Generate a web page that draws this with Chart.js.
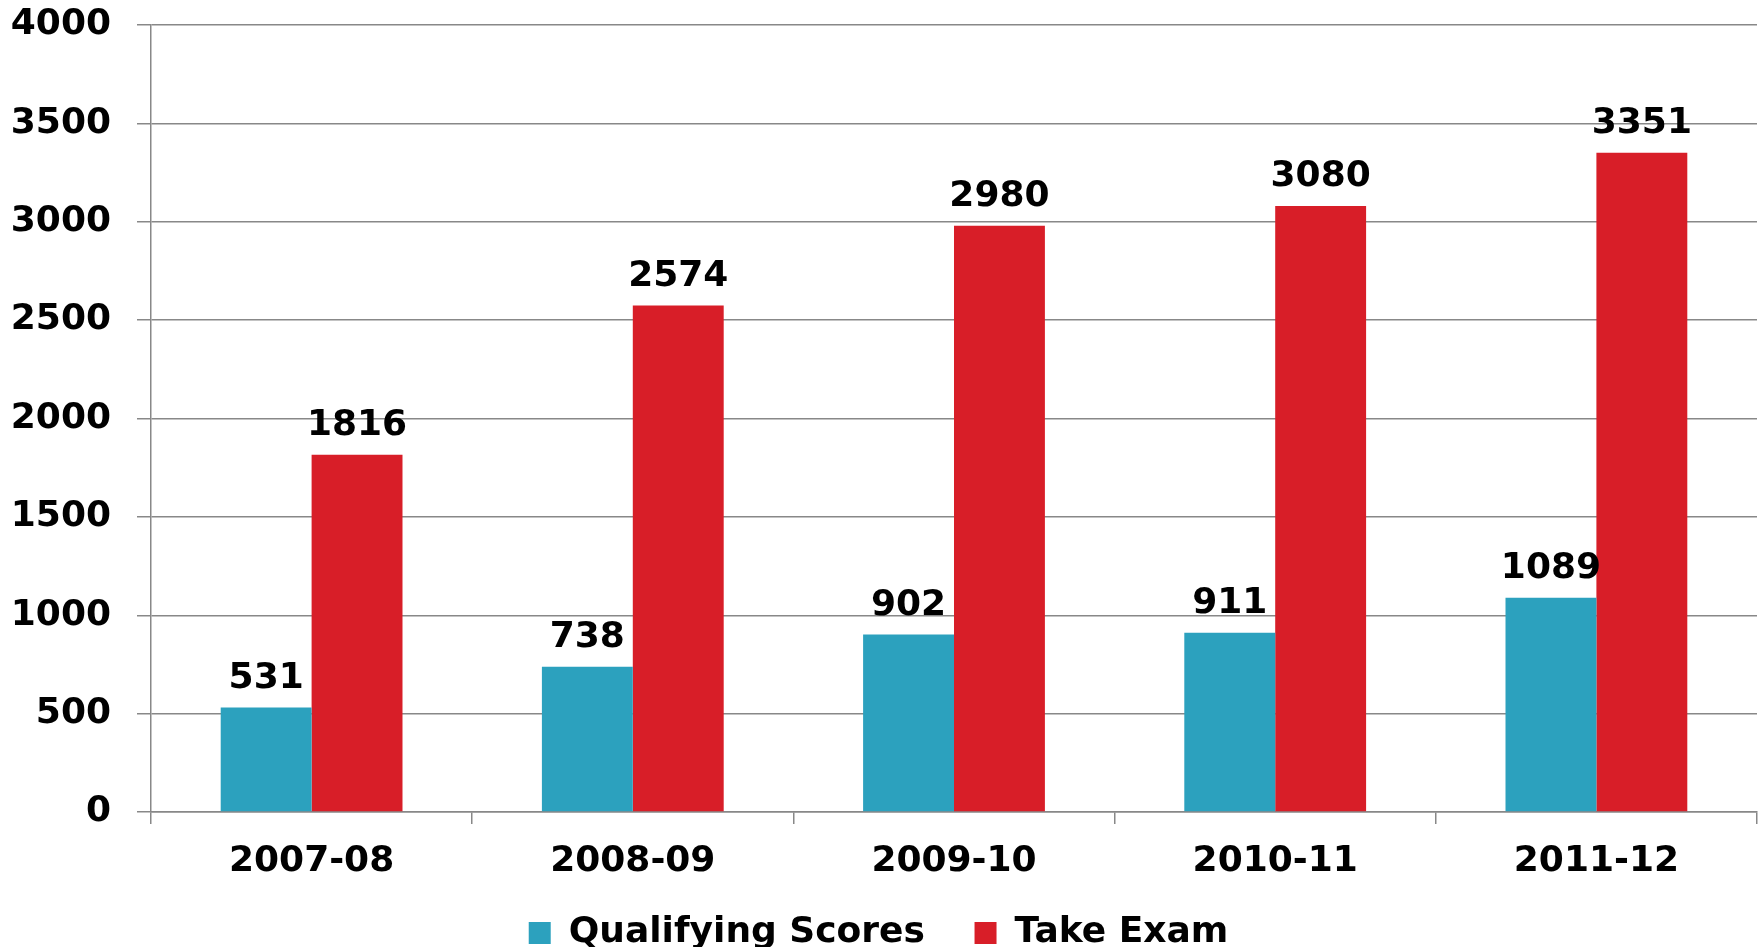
<!DOCTYPE html>
<html>
<head>
<meta charset="utf-8">
<script src="https://cdn.jsdelivr.net/npm/chart.js@4/dist/chart.umd.min.js"></script>
<style>
html,body{margin:0;padding:0;background:#fff;}
#wrap{width:1760px;height:947px;position:relative;}
</style>
</head>
<body>
<div id="wrap"><canvas id="c"></canvas></div>
<script>
const categories = ['2007-08', '2008-09', '2009-10', '2010-11', '2011-12'];
const qualifyingScores = [531, 738, 902, 911, 1089];
const takeExam = [1816, 2574, 2980, 3080, 3351];
const seriesNames = ['Qualifying Scores', 'Take Exam'];
const yTicks = [0, 500, 1000, 1500, 2000, 2500, 3000, 3500, 4000];

const FONT = "'DejaVu Sans', sans-serif";

const valueLabels = {
  id: 'valueLabels',
  afterDatasetsDraw(chart) {
    const ctx = chart.ctx;
    ctx.save();
    ctx.font = "bold 36px " + FONT;
    ctx.fillStyle = '#000';
    ctx.textAlign = 'center';
    ctx.textBaseline = 'alphabetic';
    chart.data.datasets.forEach((ds, i) => {
      const meta = chart.getDatasetMeta(i);
      meta.data.forEach((bar, j) => {
        ctx.fillText(String(ds.data[j]), bar.x, bar.y - 20);
      });
    });
    ctx.restore();
  }
};

new Chart(document.getElementById('c'), {
  type: 'bar',
  data: {
    labels: categories,
    datasets: [
      { label: seriesNames[0], data: qualifyingScores, backgroundColor: '#2CA1BE', borderWidth: 0 },
      { label: seriesNames[1], data: takeExam, backgroundColor: '#D81E28', borderWidth: 0 }
    ]
  },
  options: {
    responsive: true,
    maintainAspectRatio: false,
    animation: false,
    layout: { padding: { top: 25, right: 3, left: 0, bottom: -14 } },
    datasets: { bar: { categoryPercentage: 0.566, barPercentage: 1.0 } },
    plugins: {
      legend: {
        position: 'bottom',
        labels: {
          font: { family: FONT, size: 36, weight: 'bold' },
          color: '#000',
          boxWidth: 22,
          boxHeight: 22,
          padding: 12,
          generateLabels(chart) {
            const items = Chart.defaults.plugins.legend.labels.generateLabels(chart);
            return items.map((it, i) => {
              if (i < items.length - 1) it.text = it.text + '   ';
              return it;
            });
          }
        }
      },
      tooltip: { enabled: false }
    },
    scales: {
      x: {
        grid: { display: true, drawOnChartArea: false, drawTicks: true, tickLength: 12, color: '#888', lineWidth: 1.5, offset: true },
        border: { display: true, color: '#888', width: 1.5 },
        ticks: { font: { family: FONT, size: 36, weight: 'bold' }, color: '#000', padding: 16 },
        afterFit(scale) { scale.height = 91; }
      },
      y: {
        min: 0,
        max: 4000,
        afterBuildTicks(scale) { scale.ticks = yTicks.map(v => ({ value: v })); },
        grid: { color: '#888', lineWidth: 1.5, tickLength: 14, drawTicks: true },
        border: { display: true, color: '#888', width: 1.5 },
        ticks: { font: { family: FONT, size: 36, weight: 'bold' }, color: '#000', padding: 26, callback: v => String(v) },
        afterFit(scale) { scale.width = 151; scale.paddingTop = 0; scale.paddingBottom = 0; }
      }
    }
  },
  plugins: [valueLabels]
});
</script>
</body>
</html>
